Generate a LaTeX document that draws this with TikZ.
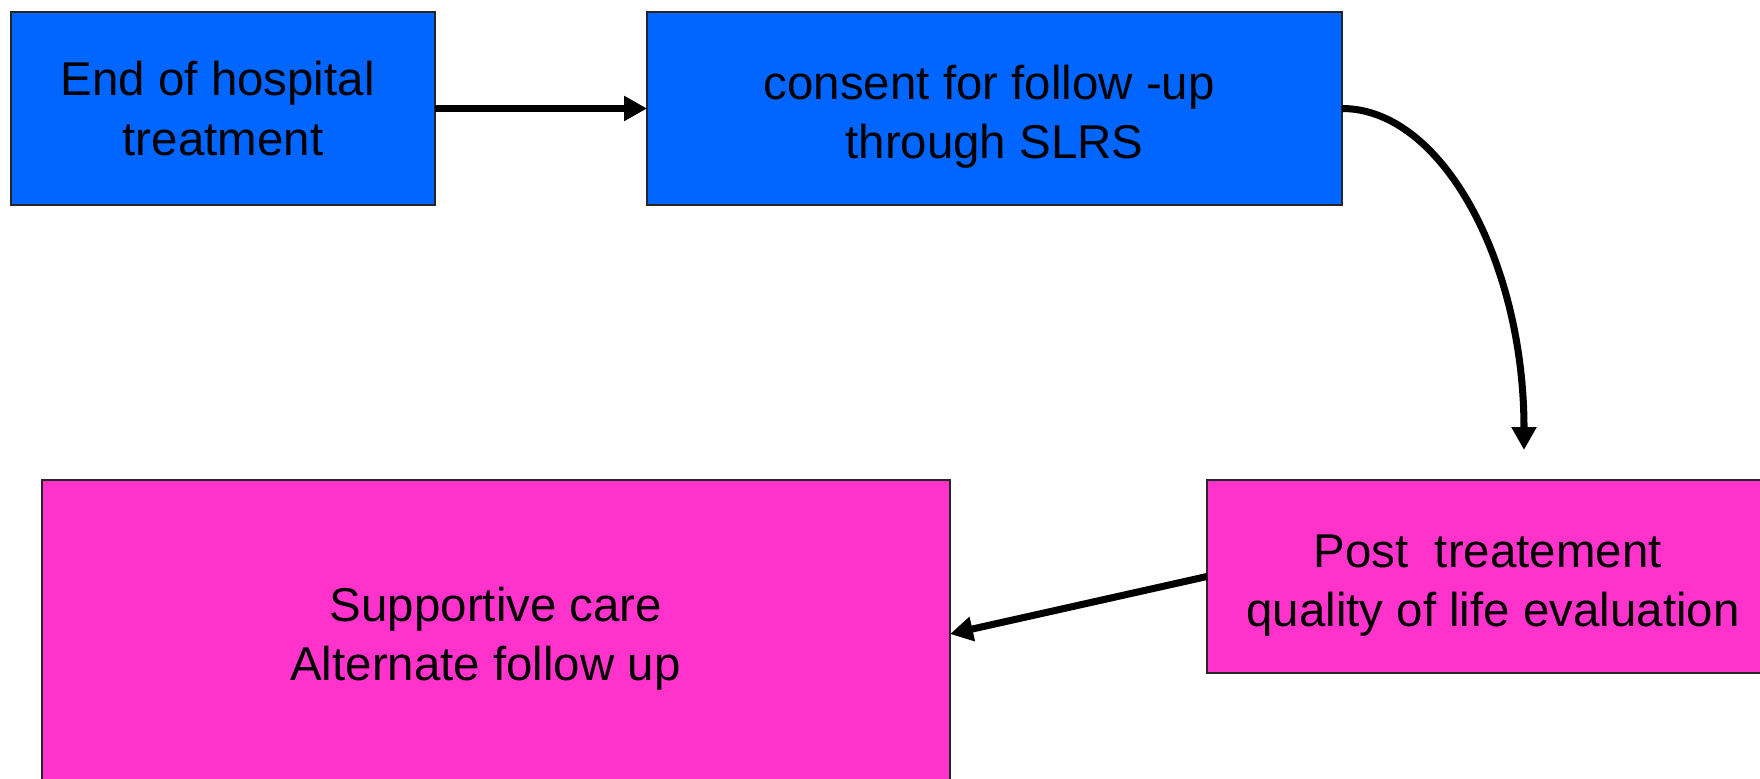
\documentclass[tikz,border=0pt]{standalone}
\usepackage{fontspec}
\setmainfont{Liberation Sans}
\usetikzlibrary{arrows.meta}
\definecolor{stepblue}{RGB}{0,102,255}
\definecolor{steppink}{RGB}{255,51,204}
\newcommand{\lift}[1]{\rule{0pt}{#1}}
\newcommand{\tail}[1]{\rule{#1}{0pt}}

\begin{document}
\begin{tikzpicture}[x=0.2mm, y=-0.2mm,
		box/.style={draw=black!85, line width=0.8pt, inner sep=0pt, outer sep=0pt,
			align=center, font=\fontsize{27}{34}\selectfont},
		bluebox/.style={box, fill=stepblue, minimum height=38.6mm},
		pinkbox/.style={box, fill=steppink},
		flow/.style={line width=4pt, -{Triangle[length=13pt, width=13.5pt]}}]
	\useasboundingbox (0,0) rectangle (1760,779);
	\node [bluebox, minimum width=84.8mm] (endhosp) at (223,108.5) {End of hospital\tail{6pt}\\treatment};
	\node [bluebox, minimum width=139mm] (consent) at (994.5,108.5) {\lift{29pt}consent for follow -up\tail{6pt}\\through SLRS};
	\node [pinkbox, minimum width=114.4mm, minimum height=38.6mm] (qol) at (1493,576.5) {\lift{29pt}Post\ \ treatement\tail{6pt}\\quality of life evaluation};
	\node [pinkbox, minimum width=181.6mm, minimum height=61.6mm] (care) at (496,634) {\lift{25pt}Supportive care\\Alternate follow up\tail{12pt}};
	\coordinate (qtip) at (1524,450);
	\draw [flow] (endhosp.east) -- (consent.west);
	\draw [flow] (consent.east) .. controls +(100,0) and +(0,-188) .. (qtip);
	\draw [flow] (qol.west) -- (care.east);
\end{tikzpicture}
\end{document}
